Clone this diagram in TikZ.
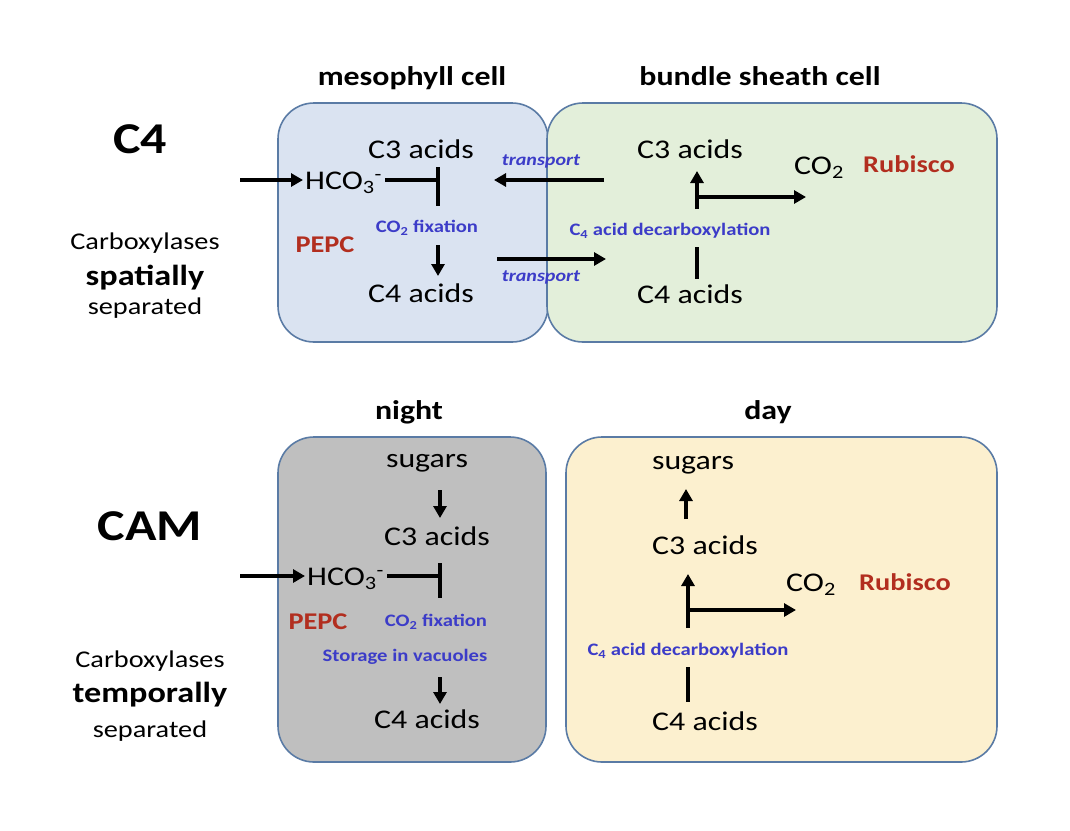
\documentclass[tikz,border=0pt]{standalone}
\usepackage{fontspec}
\setmainfont{Carlito}[FakeStretch=1.18]
\usetikzlibrary{arrows.meta}
\definecolor{edgeblue}{HTML}{5A7BA5}
\definecolor{mesofill}{HTML}{DAE3F1}
\definecolor{bsfill}{HTML}{E3EFDA}
\definecolor{nightfill}{HTML}{BFBFBF}
\definecolor{dayfill}{HTML}{FCF0CF}
\definecolor{lblblue}{HTML}{3C3CC8}
\definecolor{enzred}{HTML}{B22E1F}
\newcommand{\fsz}[1]{\fontsize{#1}{#1}\selectfont}
\begin{document}
\begin{tikzpicture}[x=1pt,y=-1pt,
  cellbox/.style={draw=edgeblue, line width=1.6pt, rounded corners=36pt},
  txt/.style={inner sep=0pt, text height=17.3pt, text depth=0pt, font=\fsz{27}},
  ttl/.style={inner sep=0pt, text height=17.3pt, text depth=0pt, font=\bfseries\fsz{27}},
  big/.style={inner sep=0pt, text height=28.2pt, text depth=0pt, font=\bfseries\fsz{44}},
  side/.style={inner sep=0pt, text height=15.4pt, text depth=0pt, font=\fsz{24}},
  sidebold/.style={inner sep=0pt, text height=18.6pt, text depth=0pt, font=\bfseries\fsz{29}},
  lbl/.style={inner sep=0pt, text height=11.2pt, text depth=0pt, text=lblblue, font=\bfseries\fsz{17.5}},
  tlbl/.style={inner sep=0pt, text height=10.9pt, text depth=0pt, text=lblblue, font=\bfseries\itshape\fsz{17}},
  enz/.style={inner sep=0pt, text height=15.4pt, text depth=0pt, text=enzred, font=\bfseries\fsz{24}},
  arr/.style={line width=3.4pt, -{Triangle[length=12pt,width=13pt]}},
  barline/.style={line width=3.4pt}]
\useasboundingbox (0,0) rectangle (1070,830);

% ---------- C4 ----------
\draw[cellbox, fill=mesofill] (278,103) rectangle (548,342);
\draw[cellbox, fill=bsfill] (547,103) rectangle (997,342);

\node[ttl] (tmeso) at (412,77) {mesophyll cell};
\node[ttl] (tbs) at (760,77) {bundle sheath cell};

\node[big] (c4title) at (140,139) {C4};
\node[side] (carb1) at (145,242) {Carboxylases};
\node[sidebold] (spat) at (145,276) {spatially};
\node[side] (sep1) at (145,307) {separated};

% mesophyll
\node[txt] (c3m) at (421,150) {C3 acids};
\node[txt, anchor=west] (hco1) at (305,181) {HCO\textsubscript{3}\textsuperscript{-}};
\node[txt] (c4m) at (421,294) {C4 acids};
\node[lbl] (fix1) at (427,227) {CO\textsubscript{2} fixation};
\node[enz] (pepc1) at (325,245) {PEPC};

\coordinate (in1) at (240,180);
\coordinate (t1) at (438,180);
\coordinate (t1top) at (438,167);
\coordinate (t1bot) at (438,206);
\coordinate (d1a) at (438,245);
\coordinate (d1b) at (438,276);
\draw[arr] (in1) -- ([xshift=-2pt]in1 -| hco1.west);
\draw[barline] ([xshift=3pt]hco1.east |- t1) -- (t1);
\draw[barline] (t1top) -- (t1bot);
\draw[arr] (d1a) -- (d1b);

% transport
\node[tlbl] (tr1) at (541,160) {transport};
\node[tlbl] (tr2) at (541,276) {transport};
\coordinate (tra) at (604,180);
\coordinate (trb) at (494,180);
\coordinate (trc) at (497,259);
\coordinate (trd) at (606,259);
\draw[arr] (tra) -- (trb);
\draw[arr] (trc) -- (trd);

% bundle sheath
\node[txt] (c3b) at (690,150) {C3 acids};
\node[txt] (c4b) at (690,295) {C4 acids};
\node[txt, anchor=west] (co2b) at (794,166) {CO\textsubscript{2}};
\node[enz] (rub1) at (909,165) {Rubisco};
\node[lbl] (dec1) at (670,230) {C\textsubscript{4} acid decarboxylation};
\coordinate (u1a) at (697,209);
\coordinate (u1b) at (697,171);
\coordinate (h1a) at (697,197);
\coordinate (h1b) at (806,197);
\coordinate (v1a) at (697,247);
\coordinate (v1b) at (697,279);
\draw[arr] (u1a) -- (u1b);
\draw[arr] ([xshift=-1.7pt]h1a) -- (h1b);
\draw[barline] (v1a) -- (v1b);

% ---------- CAM ----------
\draw[cellbox, fill=nightfill] (278,437) rectangle (546,762);
\draw[cellbox, fill=dayfill] (566,437) rectangle (997,762);

\node[ttl] (tnight) at (409,411) {night};
\node[ttl] (tday) at (768,411) {day};

\node[big] (camtitle) at (150,526) {CAM};
\node[side] (carb2) at (150,660) {Carboxylases};
\node[sidebold] (temp) at (150,693) {temporally};
\node[side] (sep2) at (150,730) {separated};

% night
\node[txt] (sugn) at (427,459) {sugars};
\node[txt] (c3n) at (437,537) {C3 acids};
\node[txt, anchor=west] (hco2) at (307,577) {HCO\textsubscript{3}\textsuperscript{-}};
\node[enz] (pepc2) at (318,622) {PEPC};
\node[lbl] (fix2) at (436,621) {CO\textsubscript{2} fixation};
\node[lbl] (stor) at (405,656) {Storage in vacuoles};
\node[txt] (c4n) at (427,720) {C4 acids};

\coordinate (s2a) at (440,490);
\coordinate (s2b) at (440,518);
\coordinate (in2) at (240,576);
\coordinate (t2) at (440,576);
\coordinate (t2top) at (440,563);
\coordinate (t2bot) at (440,598);
\coordinate (d2a) at (440,677);
\coordinate (d2b) at (440,704);
\draw[arr] (s2a) -- (s2b);
\draw[arr] (in2) -- ([xshift=-2pt]in2 -| hco2.west);
\draw[barline] ([xshift=3pt]hco2.east |- t2) -- (t2);
\draw[barline] (t2top) -- (t2bot);
\draw[arr] (d2a) -- (d2b);

% day
\node[txt] (sugd) at (693,461) {sugars};
\node[txt] (c3d) at (705,546) {C3 acids};
\node[txt, anchor=west] (co2d) at (786,583) {CO\textsubscript{2}};
\node[enz] (rub2) at (905,583) {Rubisco};
\node[lbl] (dec2) at (688,650) {C\textsubscript{4} acid decarboxylation};
\node[txt] (c4d) at (705,722) {C4 acids};

\coordinate (s3a) at (686,519);
\coordinate (s3b) at (686,489);
\coordinate (u2a) at (688,628);
\coordinate (u2b) at (688,574);
\coordinate (h2a) at (688,610);
\coordinate (h2b) at (796,610);
\coordinate (v2a) at (688,667);
\coordinate (v2b) at (688,702);
\draw[arr] (s3a) -- (s3b);
\draw[arr] (u2a) -- (u2b);
\draw[arr] ([xshift=-1.7pt]h2a) -- (h2b);
\draw[barline] (v2a) -- (v2b);
\end{tikzpicture}
\end{document}
